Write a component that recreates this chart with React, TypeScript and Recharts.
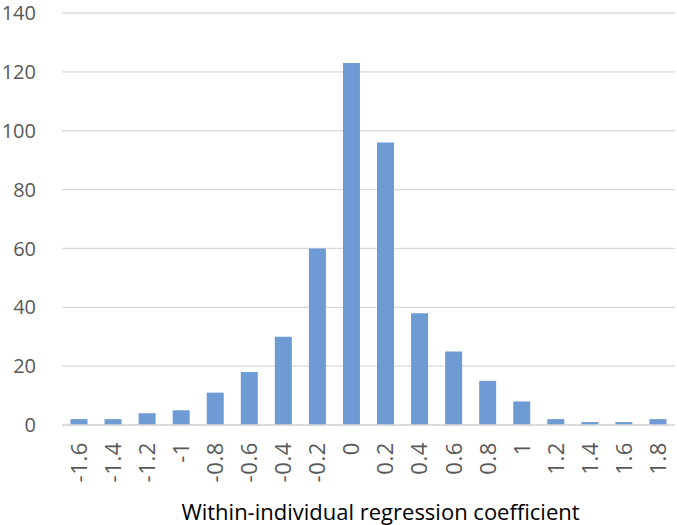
import { BarChart, Bar, XAxis, YAxis, CartesianGrid } from "recharts"

const categories = ["-1.6", "-1.4", "-1.2", "-1", "-0.8", "-0.6", "-0.4", "-0.2", "0", "0.2", "0.4", "0.6", "0.8", "1", "1.2", "1.4", "1.6", "1.8"]
const counts = [2, 2, 4, 5, 11, 18, 30, 60, 123, 96, 38, 25, 15, 8, 2, 1, 1, 2]
const yTicks = [0, 20, 40, 60, 80, 100, 120, 140]

const data = categories.map((c, i) => ({ name: c, value: counts[i] }))

const FONT = "'Open Sans', sans-serif"
const TEXT = "#595959"

function RotatedTick(props: any) {
  const { x, y, payload } = props
  const ty = y + 15
  return (
    <text
      x={x}
      y={ty}
      transform={`rotate(-90, ${x}, ${ty})`}
      textAnchor="end"
      dy="0.36em"
      fill={TEXT}
      fontSize={22}
      letterSpacing={0.6}
      fontFamily={FONT}
    >
      {payload.value}
    </text>
  )
}

export default function App() {
  return (
    <div style={{ position: "absolute", left: 0, top: 0, width: 677, height: 525, background: "#fff" }}>
      <BarChart
        width={677}
        height={525}
        data={data}
        margin={{ top: 13, right: 2, left: 0, bottom: 0 }}
        barCategoryGap="25%"
      >
        <CartesianGrid vertical={false} stroke="#d9d9d9" strokeWidth={1.3} />
        <XAxis
          dataKey="name"
          interval={0}
          height={100}
          tickLine={false}
          tickSize={0}
          axisLine={{ stroke: "#d9d9d9", strokeWidth: 1.3 }}
          tick={<RotatedTick />}
          label={{
            value: "Within-individual regression coefficient",
            position: "insideBottom",
            offset: 5,
            dx: 12,
            fill: "#000",
            fontSize: 22,
            fontFamily: FONT,
          }}
        />
        <YAxis
          width={62}
          domain={[0, 140]}
          ticks={yTicks}
          axisLine={false}
          tickLine={false}
          tickMargin={20}
          tick={{ fill: TEXT, fontSize: 20, fontFamily: FONT }}
        />
        <Bar dataKey="value" fill="#6f9bd4" isAnimationActive={false} />
      </BarChart>
    </div>
  )
}
